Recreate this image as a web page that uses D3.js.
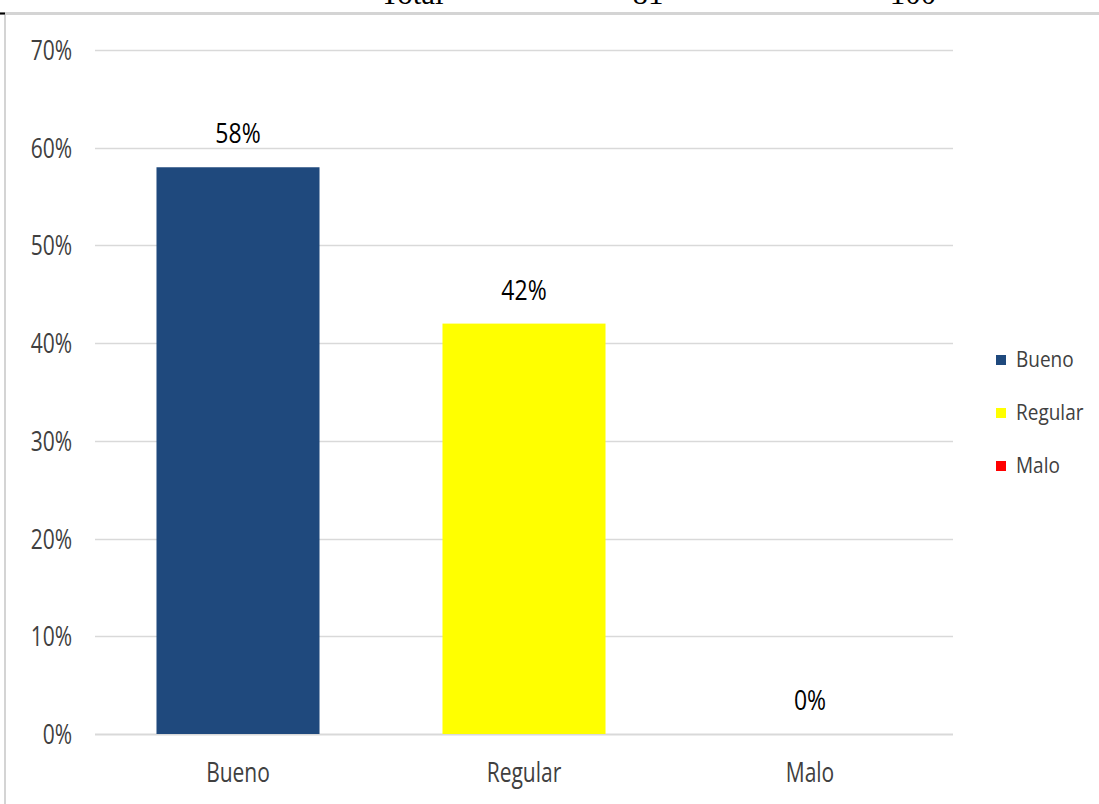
<!DOCTYPE html>
<html><head><meta charset="utf-8">
<script src="https://cdn.jsdelivr.net/npm/d3@7"></script>
<style>body{margin:0;background:#fff}svg{display:block}</style>
</head><body>
<svg id="c" width="1099" height="804"></svg>
<script>
const categories = ["Bueno", "Regular", "Malo"];
const values = [0.58, 0.42, 0.00];
const colors = ["#1F497D", "#FFFF00", "#FF0000"];
const yTicks = [0, 0.1, 0.2, 0.3, 0.4, 0.5, 0.6, 0.7];
const topRow = ["Total", "81", "100"];
const topRowX = [412, 648, 913];

const svg = d3.select("#c");
const font = "'Open Sans', sans-serif";
const pct = d3.format(".0%");

function stretchedText(g, x, y, str, size, sy, anchor, fill) {
  return g.append("text")
    .attr("transform", `translate(${x},${y}) scale(1,${sy})`)
    .attr("text-anchor", anchor)
    .attr("font-family", font).attr("font-size", size)
    .attr("fill", fill).text(str);
}

// cut-off table text at top
svg.selectAll("text.top").data(topRow).join("text")
  .attr("x", (d, i) => topRowX[i]).attr("y", 4)
  .attr("text-anchor", "middle")
  .attr("font-family", "'Liberation Serif', serif").attr("font-size", 31)
  .attr("fill", "#000").text(d => d);

// frame
svg.append("line").attr("x1", 0).attr("x2", 1099).attr("y1", 13.5).attr("y2", 13.5)
  .attr("stroke", "#d4d4d4").attr("stroke-width", 3);
svg.append("line").attr("x1", 5).attr("x2", 5).attr("y1", 13).attr("y2", 804)
  .attr("stroke", "#d4d4d4").attr("stroke-width", 2);
svg.append("line").attr("x1", 0).attr("x2", 5).attr("y1", 13.5).attr("y2", 13.5)
  .attr("stroke", "#000").attr("stroke-width", 2);

const x = d3.scaleBand().domain(categories).range([95, 953]).paddingInner(0.43).paddingOuter(0.215);
const y = d3.scaleLinear().domain([0, 0.7]).range([734, 50]);

// gridlines
svg.append("g").selectAll("line").data(yTicks).join("line")
  .attr("x1", 95).attr("x2", 953)
  .attr("y1", d => Math.round(y(d)) + 0.5).attr("y2", d => Math.round(y(d)) + 0.5)
  .attr("stroke", "#d9d9d9").attr("stroke-width", d => d === 0 ? 2 : 1.3);

// y axis labels
const ga = svg.append("g");
yTicks.forEach(t => stretchedText(ga, 72, y(t) + 10, pct(t), 21, 1.3, "end", "#404040"));

// bars
svg.append("g").selectAll("rect").data(categories).join("rect")
  .attr("x", d => x(d)).attr("width", x.bandwidth())
  .attr("y", (d, i) => y(values[i])).attr("height", (d, i) => y(0) - y(values[i]))
  .attr("fill", (d, i) => colors[i]);

// value labels
const gv = svg.append("g");
categories.forEach((c, i) => stretchedText(gv, x(c) + x.bandwidth() / 2, y(values[i]) - 24, pct(values[i]), 23, 1.2, "middle", "#000"));

// x axis labels
const gx = svg.append("g");
categories.forEach(c => stretchedText(gx, x(c) + x.bandwidth() / 2, 782, c, 21, 1.27, "middle", "#404040"));

// legend
const lg = svg.append("g");
categories.forEach((c, i) => {
  const yy = 355 + i * 53;
  lg.append("rect").attr("x", 996).attr("y", yy).attr("width", 10).attr("height", 10).attr("fill", colors[i]);
  stretchedText(lg, 1016, yy + 12, c, 19, 1.15, "start", "#404040");
});
</script>
</body></html>
